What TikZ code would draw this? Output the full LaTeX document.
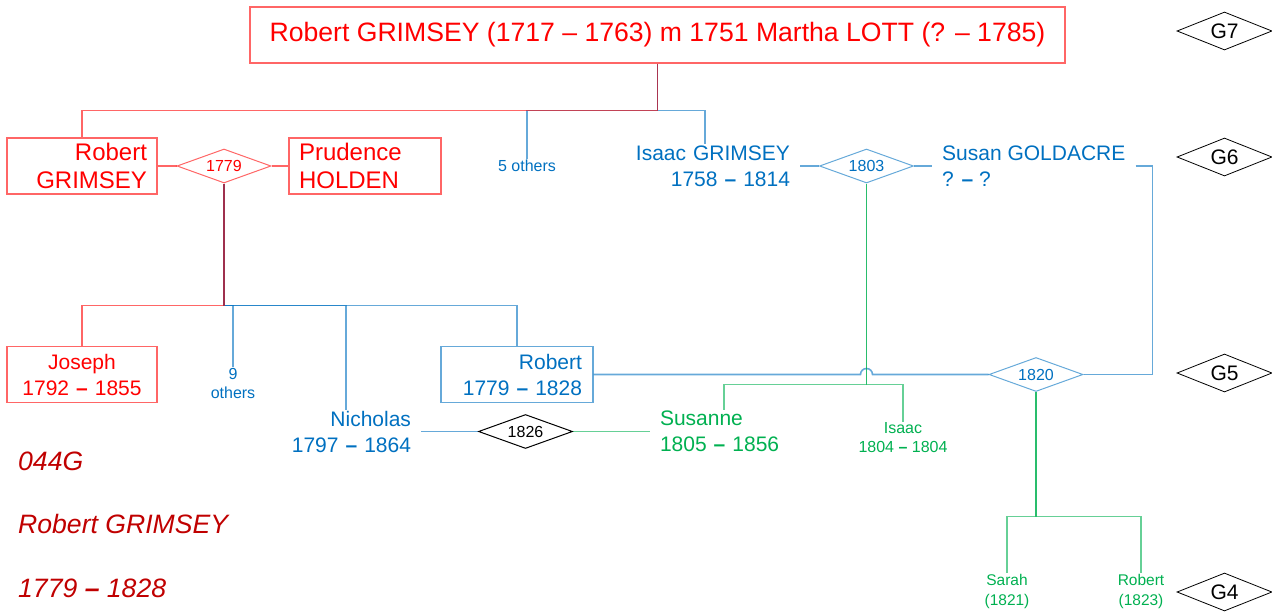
\documentclass[tikz,border=0pt]{standalone}
\usepackage{fontspec}
\setmainfont{Liberation Sans}
\usepackage{xcolor}
\definecolor{famRed}{HTML}{FF0000}
\definecolor{famBlue}{HTML}{0070C0}
\definecolor{famGreen}{HTML}{00B050}
\definecolor{noteRed}{HTML}{C00000}
\usetikzlibrary{positioning,shapes.geometric}
\newcommand{\lifeDash}{\textbf{–}}
\tikzset{%
  bigFont/.style={font=\fontsize{24}{28}\selectfont},
  midFont/.style={font=\fontsize{21}{26}\selectfont},
  smallFont/.style={font=\fontsize{16}{19}\selectfont},
  personBox/.style={
    rectangle, draw, line width=1.3pt, inner xsep=10pt, inner ysep=0pt,
    minimum height=56pt},
  redBox/.style ={personBox, draw=famRed!60,  text=famRed},
  blueBox/.style={personBox, draw=famBlue!60, text=famBlue},
  personText/.style={inner xsep=10pt, inner ysep=1pt},
  marriage/.style={
    diamond, aspect=2.8, draw, line width=1pt, inner sep=0pt,
    minimum width=94pt, minimum height=34pt, font=\fontsize{16}{18}\selectfont},
  genMark/.style={
    diamond, aspect=2.5, draw=black, line width=0.8pt, inner sep=0pt,
    minimum width=95pt, minimum height=38pt, font=\fontsize{21}{24}\selectfont},
  redLink/.style  ={draw=famRed,   draw opacity=0.6, line width=1.6pt},
  blueLink/.style ={draw=famBlue,  draw opacity=0.6, line width=1.6pt},
  greenLink/.style={draw=famGreen, draw opacity=0.6, line width=1.6pt},
  noteText/.style={anchor=west, inner sep=0pt, text=noteRed,
    font=\fontsize{26.6}{30}\selectfont\itshape},
}

\begin{document}
\begin{tikzpicture}[x=1pt, y=-1pt]
  \useasboundingbox (0,0) rectangle (1272,613);
  % G7
  \node[redBox, minimum width=815pt, font=\fontsize{26.6}{30}\selectfont] (topBox) at (657.5,35)
    {Robert GRIMSEY (1717 – 1763) m 1751 Martha LOTT (? – 1785)};
  % G6
  \node[redBox, bigFont, text width=130pt, align=right] (robertSr) at (82,166) {Robert\\GRIMSEY};
  \node[marriage, draw=famRed!60, text=famRed] (m1779) at (224,166) {1779};
  \node[redBox, bigFont, text width=132pt, align=left] (prudence) at (365,166) {Prudence\\HOLDEN};
  \node[personText, smallFont, text=famBlue] (fiveOthers) at (527,166) {5 others};
  \node[personText, midFont, text=famBlue, text width=170pt, align=right] (isaacG) at (705,166)
    {Isaac GRIMSEY\\1758 \lifeDash{} 1814};
  \node[marriage, draw=famBlue!60, text=famBlue] (m1803) at (866.5,166) {1803};
  \node[personText, midFont, text=famBlue, anchor=west, align=left] (susan) at (932,166)
    {Susan GOLDACRE\\? \lifeDash{} ?};
  % G5
  \node[redBox, midFont, text width=130pt, align=center] (joseph) at (82,374.5) {Joseph\\1792 \lifeDash{} 1855};
  \node[personText, smallFont, text=famBlue, align=center] (nineOthers) at (233,383.5) {9\\others};
  \node[blueBox, midFont, text width=130pt, align=right, inner xsep=11pt] (robertJ) at (517,374.5)
    {Robert\\1779 \lifeDash{} 1828};
  \node[personText, midFont, text=famBlue, text width=130pt, align=right] (nicholas) at (346,431.5)
    {Nicholas\\1797 \lifeDash{} 1864};
  \node[marriage, text=black] (m1826) at (525.5,431.5) {1826};
  \node[personText, midFont, text=famGreen, text width=128pt, align=left] (susanne) at (724,431.5)
    {Susanne\\1805 \lifeDash{} 1856};
  \node[personText, smallFont, text=famGreen, align=center] (isaacJr) at (903,438) {Isaac\\1804 \lifeDash{} 1804};
  \node[marriage, draw=famBlue!60, text=famBlue] (m1820) at (1036,374.5) {1820};
  % G4
  \node[personText, text=famGreen, font=\fontsize{15.5}{20}\selectfont, align=center] (sarah) at (1007,591)
    {Sarah\\(1821)};
  \node[personText, text=famGreen, font=\fontsize{15.5}{20}\selectfont, align=center] (robertJr) at (1141,591)
    {Robert\\(1823)};
  % generation marks
  \node[genMark] (g7) at (1224.5,31)  {G7};
  \node[genMark] (g6) at (1224.5,157) {G6};
  \node[genMark] (g5) at (1224.5,373) {G5};
  \node[genMark] (g4) at (1224.5,592) {G4};
  % notes
  \node[noteText] (noteId)   at (18,461) {044G};
  \node[noteText] (noteName) at (18,524) {Robert GRIMSEY};
  \node[noteText] (noteLife) at (18,588) {1779 \lifeDash{} 1828};

  \draw[blueLink] (topBox.south) -- ++(0,47) -| (fiveOthers.north);
  \draw[blueLink] (topBox.south) -- ++(0,47) -| (isaacG.north);
  \draw[redLink]  (topBox.south) -- ++(0,47) -| (robertSr.north);

  \draw[redLink]  (robertSr) -- (m1779) -- (prudence);
  \draw[blueLink] (isaacG) -- (m1803) -- (susan);
  \draw[blueLink] (susan.east) -- ++(17,0) |- (m1820.east);
  \coordinate (hop) at (m1803.south |- robertJ.east);
  \draw[blueLink] (robertJ.east) -- ([xshift=-6pt]hop) arc[start angle=180, end angle=0, radius=6pt] -- (m1820.west);
  \draw[blueLink]  (nicholas) -- (m1826);
  \draw[greenLink] (m1826) -- (susanne);

  \draw[blueLink] (m1779.south) -- ++(0,122) -| (nineOthers.north);
  \draw[blueLink] (m1779.south) -- ++(0,122) -| (nicholas.north);
  \draw[blueLink] (m1779.south) -- ++(0,122) -| (robertJ.north);
  \draw[redLink]  (m1779.south) -- ++(0,122) -| (joseph.north);

  \draw[greenLink] (m1803.south) -- ++(0,201) -| (susanne.north);
  \draw[greenLink] (m1803.south) -- ++(0,201) -| (isaacJr.north);

  \draw[greenLink] (m1820.south) -- ++(0,124.5) -| (sarah.north);
  \draw[greenLink] (m1820.south) -- ++(0,124.5) -| (robertJr.north);
\end{tikzpicture}
\end{document}
